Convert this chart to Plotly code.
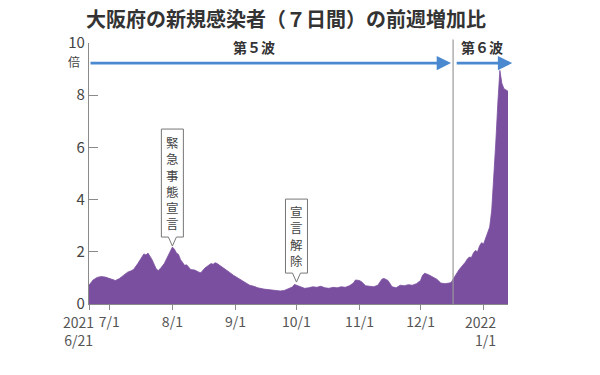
import plotly.graph_objects as go

# ---- data ----
dates = [
    "2021-06-21", "2021-06-22", "2021-06-23", "2021-06-25", "2021-06-27", "2021-06-29",
    "2021-07-01", "2021-07-03", "2021-07-04", "2021-07-06", "2021-07-08", "2021-07-10",
    "2021-07-12", "2021-07-13", "2021-07-15", "2021-07-17", "2021-07-18", "2021-07-19",
    "2021-07-20", "2021-07-22", "2021-07-24", "2021-07-25", "2021-07-26", "2021-07-28",
    "2021-07-30", "2021-07-31", "2021-08-01", "2021-08-02", "2021-08-03", "2021-08-04",
    "2021-08-05", "2021-08-07", "2021-08-08", "2021-08-10", "2021-08-12", "2021-08-14",
    "2021-08-15", "2021-08-17", "2021-08-19", "2021-08-20", "2021-08-21", "2021-08-22",
    "2021-08-23", "2021-08-25", "2021-08-27", "2021-08-29", "2021-08-31", "2021-09-02",
    "2021-09-04", "2021-09-06", "2021-09-08", "2021-09-10", "2021-09-12", "2021-09-15",
    "2021-09-18", "2021-09-21", "2021-09-23", "2021-09-25", "2021-09-27", "2021-09-29",
    "2021-09-30", "2021-10-01", "2021-10-03", "2021-10-05", "2021-10-07", "2021-10-09",
    "2021-10-11", "2021-10-13", "2021-10-15", "2021-10-17", "2021-10-19", "2021-10-21",
    "2021-10-23", "2021-10-25", "2021-10-27", "2021-10-29", "2021-10-30", "2021-11-01",
    "2021-11-02", "2021-11-04", "2021-11-06", "2021-11-08", "2021-11-10", "2021-11-12",
    "2021-11-13", "2021-11-15", "2021-11-17", "2021-11-19", "2021-11-21", "2021-11-23",
    "2021-11-25", "2021-11-27", "2021-11-29", "2021-12-01", "2021-12-02", "2021-12-03",
    "2021-12-05", "2021-12-07", "2021-12-09", "2021-12-11", "2021-12-13", "2021-12-15",
    "2021-12-16", "2021-12-17", "2021-12-18", "2021-12-19", "2021-12-20", "2021-12-21",
    "2021-12-22", "2021-12-23", "2021-12-24", "2021-12-25", "2021-12-26", "2021-12-27",
    "2021-12-28", "2021-12-29", "2021-12-30", "2021-12-31", "2022-01-01", "2022-01-02",
    "2022-01-03", "2022-01-04", "2022-01-05", "2022-01-06", "2022-01-07", "2022-01-08",
    "2022-01-09", "2022-01-10", "2022-01-11", "2022-01-12", "2022-01-13",
]
ratio = [
    0.72, 0.80, 0.92, 1.02, 1.05, 1.03,
    0.98, 0.93, 0.90, 0.98, 1.10, 1.22,
    1.28, 1.33, 1.55, 1.80, 1.92, 1.88,
    1.95, 1.70, 1.35, 1.28, 1.35, 1.55,
    1.85, 2.00, 2.18, 2.10, 1.95, 1.90,
    1.70, 1.48, 1.50, 1.32, 1.30, 1.22,
    1.20, 1.38, 1.50, 1.55, 1.52, 1.58,
    1.55, 1.45, 1.35, 1.22, 1.10, 1.00,
    0.90, 0.80, 0.72, 0.68, 0.62, 0.57,
    0.55, 0.52, 0.50, 0.52, 0.58, 0.65,
    0.75, 0.72, 0.66, 0.60, 0.62, 0.66,
    0.64, 0.68, 0.62, 0.60, 0.64, 0.62,
    0.66, 0.64, 0.70, 0.80, 0.92, 0.90,
    0.85, 0.70, 0.68, 0.66, 0.72, 0.95,
    0.98, 0.90, 0.66, 0.62, 0.72, 0.70,
    0.74, 0.72, 0.78, 0.90, 1.10, 1.18,
    1.12, 1.02, 0.95, 0.80, 0.78, 0.80,
    0.82, 0.95, 1.10, 1.20, 1.32, 1.40,
    1.52, 1.60, 1.72, 1.80, 1.78, 1.95,
    2.05, 2.00, 2.22, 2.35, 2.30, 2.50,
    2.70, 2.95, 3.60, 4.80, 6.20, 7.70,
    8.95, 8.45, 8.25, 8.20, 8.15,
]

tick_dates = ["2021-06-21", "2021-07-01", "2021-08-01", "2021-09-01", "2021-10-01",
              "2021-11-01", "2021-12-01", "2022-01-01"]
tick_text = ["2021<br>6/21", "7/1", "8/1", "9/1", "10/1", "11/1", "12/1", "2022<br>1/1"]
y_ticks = [0, 2, 4, 6, 8, 10]

wave6_start = "2021-12-17"
events = [
    {"text": "緊急事態宣言", "date": "2021-08-01", "y": 2.22},
    {"text": "宣言解除", "date": "2021-10-01", "y": 0.84},
]

title = "大阪府の新規感染者（７日間）の前週増加比"
FONT = "Noto Sans CJK JP"
PURPLE = "#7b4f9f"
BLUE = "#4a89cf"
GREY = "#8a8a8a"

fig = go.Figure()
fig.add_trace(go.Scatter(
    x=dates, y=ratio, mode="lines", fill="tozeroy",
    line=dict(color=PURPLE, width=0.8), fillcolor=PURPLE,
    hoverinfo="skip", showlegend=False,
))

shapes = []
annotations = []

# 6th-wave separator line
shapes.append(dict(type="line", xref="x", yref="paper", x0=wave6_start, x1=wave6_start,
                   y0=0, y1=1.013, line=dict(color="#9a9a9a", width=1.2), layer="above"))

# wave arrows (paper coordinates)
annotations.append(dict(xref="paper", yref="y", x=0.864, y=9.23, ax=-362, ay=0,
                        axref="pixel", ayref="pixel", text="", showarrow=True,
                        arrowhead=2, arrowsize=1.1, arrowwidth=2.6, arrowcolor=BLUE,
                        standoff=0, startstandoff=0))
annotations.append(dict(xref="paper", yref="y", x=1.01, y=9.23, ax=-57, ay=0,
                        axref="pixel", ayref="pixel", text="", showarrow=True,
                        arrowhead=2, arrowsize=1.1, arrowwidth=2.6, arrowcolor=BLUE,
                        standoff=0, startstandoff=0))
annotations.append(dict(xref="x", yref="y", x="2021-09-10", y=9.85, text="<b>第５波</b>",
                        showarrow=False, font=dict(family=FONT, size=14, color="#333333"),
                        xanchor="center", yanchor="middle"))
annotations.append(dict(xref="x", yref="y", x="2021-12-31", y=9.85, text="<b>第６波</b>",
                        showarrow=False, font=dict(family=FONT, size=14, color="#333333"),
                        xanchor="center", yanchor="middle"))

# unit label
annotations.append(dict(xref="paper", yref="y", x=0, y=9.3, xshift=-7, text="倍",
                        showarrow=False, font=dict(family=FONT, size=12, color="#444444"),
                        xanchor="right", yanchor="middle"))

# two-line tick labels drawn as annotations (offset like the reference)
for i in (0, len(tick_dates) - 1):
    annotations.append(dict(xref="x", yref="paper", x=tick_dates[i], y=0, yshift=-6,
                            xshift=-11 if i == 0 else -3, text=tick_text[i],
                            showarrow=False, xanchor="center", yanchor="top",
                            align="center" if i == 0 else "right",
                            font=dict(family=FONT, size=14, color="#555555")))
axis_text = [("" if "<br>" in t else t) for t in tick_text]

# callout boxes with vertical text
STEP = 17
for ev in events:
    n = len(ev["text"])
    notch = 9
    h = n * STEP + 6
    hw = 11
    top = notch + h
    path = (f"M 0,0 L -4,{notch} L -{hw},{notch} L -{hw},{top} L {hw},{top} "
            f"L {hw},{notch} L 4,{notch} Z")
    shapes.append(dict(type="path", xref="x", yref="y", xsizemode="pixel",
                       ysizemode="pixel", xanchor=ev["date"], yanchor=ev["y"],
                       path=path, fillcolor="white", line=dict(color="#777777", width=1),
                       layer="above"))
    annotations.append(dict(xref="x", yref="y", x=ev["date"], y=ev["y"],
                            yshift=notch + h / 2, text="<br>".join(ev["text"]),
                            showarrow=False, xanchor="center", yanchor="middle",
                            borderpad=0, borderwidth=0,
                            font=dict(family=FONT, size=12.5, color="#444444")))

fig.update_layout(
    width=600, height=375,
    margin=dict(l=89, r=92, t=43, b=71, autoexpand=False),
    paper_bgcolor="white", plot_bgcolor="white",
    font=dict(family=FONT, color="#444444"),
    title=dict(text=f"<b>{title}</b>", x=86 / 600, xref="container", xanchor="left",
               y=1 - 20 / 375, yref="container", yanchor="middle",
               font=dict(family=FONT, size=20, color="#333333")),
    shapes=shapes, annotations=annotations,
    xaxis=dict(type="date", range=["2021-06-21", "2022-01-13"],
               tickvals=tick_dates, ticktext=axis_text, ticks="outside", ticklen=5,
               tickangle=0, automargin=False,
               tickcolor=GREY, showline=True, linecolor=GREY, linewidth=1.2,
               showgrid=False, zeroline=False,
               tickfont=dict(family=FONT, size=14, color="#555555")),
    yaxis=dict(range=[0, 10], tickvals=y_ticks, ticks="inside", ticklen=9,
               automargin=False,
               tickcolor=GREY, showline=True, linecolor=GREY, linewidth=1.2,
               showgrid=False, zeroline=False,
               tickfont=dict(family=FONT, size=15, color="#444444")),
)

fig.write_html("out.html", config={"displayModeBar": False},
               post_script="document.body.style.margin='0';")
